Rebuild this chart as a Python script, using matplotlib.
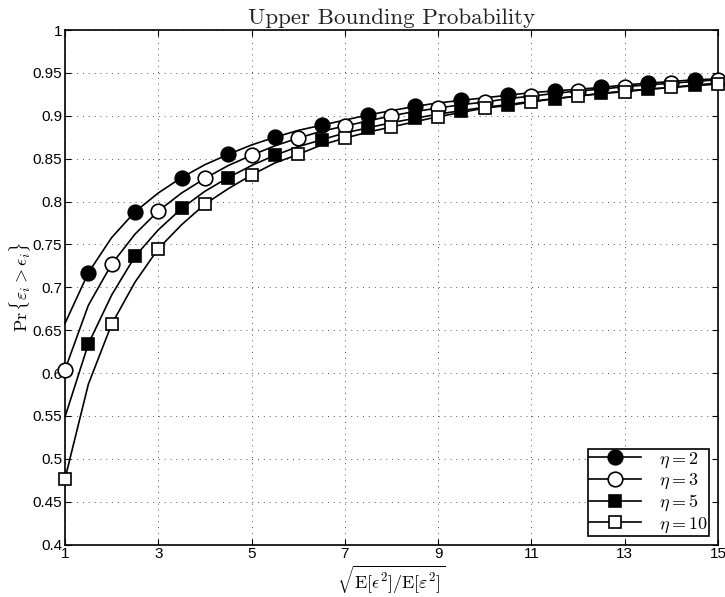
import numpy as np
import matplotlib
matplotlib.use("Agg")
import matplotlib.pyplot as plt
from matplotlib.ticker import FormatStrFormatter

# =========================
# DATA
# =========================
x = [1, 1.5, 2, 2.5, 3, 3.5, 4, 4.5, 5, 5.5, 6, 6.5, 7, 7.5, 8,
     8.5, 9, 9.5, 10, 10.5, 11, 11.5, 12, 12.5, 13, 13.5, 14, 14.5, 15]

eta_2 = [0.658, 0.717, 0.758, 0.788, 0.810, 0.828, 0.843, 0.855, 0.866, 0.875,
         0.883, 0.889, 0.895, 0.901, 0.906, 0.911, 0.915, 0.918, 0.921, 0.924,
         0.927, 0.929, 0.931, 0.933, 0.936, 0.938, 0.940, 0.942, 0.943]
eta_3 = [0.604, 0.679, 0.727, 0.762, 0.789, 0.810, 0.827, 0.842, 0.854, 0.865,
         0.874, 0.882, 0.888, 0.894, 0.900, 0.905, 0.909, 0.913, 0.916, 0.920,
         0.923, 0.926, 0.929, 0.931, 0.934, 0.936, 0.938, 0.940, 0.942]
eta_5 = [0.549, 0.634, 0.691, 0.736, 0.767, 0.792, 0.812, 0.828, 0.842, 0.854,
         0.864, 0.872, 0.880, 0.886, 0.892, 0.897, 0.902, 0.906, 0.910, 0.913,
         0.917, 0.920, 0.923, 0.926, 0.929, 0.931, 0.933, 0.936, 0.938]
eta_10 = [0.477, 0.587, 0.657, 0.706, 0.745, 0.773, 0.797, 0.815, 0.831, 0.845,
          0.855, 0.866, 0.874, 0.881, 0.887, 0.893, 0.899, 0.904, 0.909, 0.912,
          0.916, 0.920, 0.923, 0.926, 0.928, 0.931, 0.933, 0.935, 0.937]

labels = [r"$\eta = 2$", r"$\eta = 3$", r"$\eta = 5$", r"$\eta = 10$"]
x_ticks = [1, 3, 5, 7, 9, 11, 13, 15]
y_ticks = [0.4, 0.45, 0.5, 0.55, 0.6, 0.65, 0.7, 0.75, 0.8, 0.85, 0.9, 0.95, 1]

# =========================
# STYLE
# =========================
plt.rcParams["font.family"] = ["Liberation Sans", "DejaVu Sans"]
plt.rcParams["mathtext.fontset"] = "cm"

fig = plt.figure(figsize=(7.25, 5.97), dpi=100)
ax = fig.add_axes([0.0897, 0.0878, 0.9006, 0.8619])

# (series, marker, face, markevery start, size)
styles = [
    (eta_2, "o", "black", 1, 10.5),
    (eta_3, "o", "white", 0, 10.5),
    (eta_5, "s", "black", 1, 8.5),
    (eta_10, "s", "white", 0, 8.5),
]

for (ys, mk, fc, start, ms), lab in zip(styles, labels):
    ax.plot(x, ys, color="black", lw=1.2, marker=mk, markersize=ms,
            markerfacecolor=fc, markeredgecolor="black", markeredgewidth=1.2,
            markevery=slice(start, None, 2), label=lab, clip_on=False, zorder=3)

ax.set_xlim(1, 15)
ax.set_ylim(0.4, 1)
ax.set_xticks(x_ticks)
ax.set_yticks(y_ticks)
ax.yaxis.set_major_formatter(FormatStrFormatter("%g"))
ax.tick_params(direction="in", top=True, right=True, labelsize=11, length=4,
               width=0.8, pad=2)
ax.grid(True, linestyle=(0, (1, 5)), color="#555555", linewidth=0.7)
for s in ax.spines.values():
    s.set_linewidth(1.2)

ax.set_title("Upper Bounding Probability", fontfamily="cmr10", fontsize=16.6,
             pad=4, color="#222222")
ax.set_xlabel(r"$\sqrt{\mathrm{E}[\epsilon^2]/\mathrm{E}[\varepsilon^2]}$",
              fontsize=13, labelpad=1)
ax.set_ylabel(r"$\Pr\{\varepsilon_i > \epsilon_i\}$", fontsize=13, labelpad=0)

leg = ax.legend(loc="lower right", fontsize=13, fancybox=False, framealpha=1,
                edgecolor="black", borderaxespad=0.5, handlelength=2.9,
                labelspacing=0.1, borderpad=0.05, handletextpad=1.0)
leg.get_frame().set_linewidth(1.2)

fig.savefig("out.png", dpi=100)
